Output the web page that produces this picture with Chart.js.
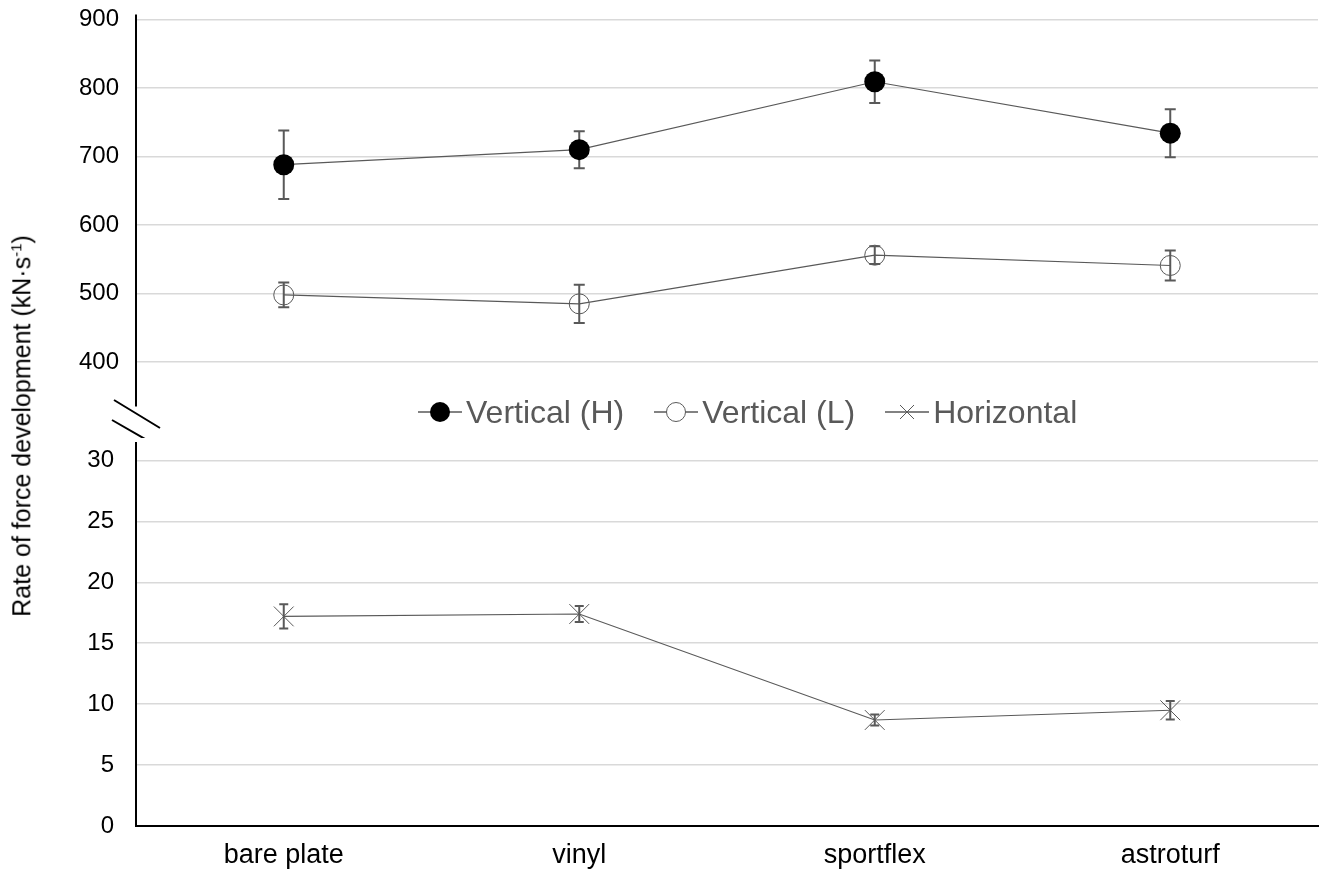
<!DOCTYPE html>
<html>
<head>
<meta charset="utf-8">
<script src="https://cdn.jsdelivr.net/npm/chart.js@4.4.1/dist/chart.umd.min.js"></script>
<style>
    body { margin: 0; background: #fff; }
    #wrap { position: relative; width: 1325px; height: 871px; overflow: hidden; font-family: Arial, "Liberation Sans", sans-serif; }
    #top-chart { position: absolute; left: 0; top: -12px; }
    #bottom-chart { position: absolute; left: 0; top: 407px; }
    #y-title {
        position: absolute; left: 22px; top: 426px;
        transform: translate(-50%, -50%) rotate(-90deg);
        white-space: nowrap; font-size: 25px; color: #000;
    }
    #y-title sup { font-size: 15px; }
    #legend {
        position: absolute; left: 418px; top: 394px; height: 36px;
        display: flex; align-items: center;
        font-size: 32px; color: #595959; white-space: nowrap;
    }
    #legend .item { display: flex; align-items: center; margin-right: 30px; }
    #legend svg { margin-right: 4px; }
</style>
</head>
<body>
<div id="wrap">
    <canvas id="top-chart" width="1325" height="450"></canvas>
    <canvas id="bottom-chart" width="1325" height="464"></canvas>
    <div id="y-title">Rate of force development (kN·s<sup>-1</sup>)</div>
    <div id="legend"></div>
</div>
<script>
const categories = ['bare plate', 'vinyl', 'sportflex', 'astroturf'];
const seriesNames = ['Vertical (H)', 'Vertical (L)', 'Horizontal'];

const vertHigh = [688, 710, 809, 734];
const vertHighErr = [50, 27, 31, 35];
const vertLow = [498, 485, 556, 541];
const vertLowErr = [18, 28, 13, 22];
const horizontal = [17.2, 17.4, 8.7, 9.5];
const horizontalErr = [1.0, 0.65, 0.45, 0.75];

const topTicks = [400, 500, 600, 700, 800, 900];
const bottomTicks = [0, 5, 10, 15, 20, 25, 30];

const lineGrey = '#595959';

// error bars drawn under the lines and markers
const errorBars = {
    id: 'errorBars',
    beforeDatasetsDraw(chart) {
        const ctx = chart.ctx;
        const y = chart.scales.y;
        chart.data.datasets.forEach((ds, i) => {
            const meta = chart.getDatasetMeta(i);
            const cap = ds.capWidth / 2;
            ctx.save();
            ctx.strokeStyle = lineGrey;
            ctx.lineWidth = 2;
            meta.data.forEach((pt, j) => {
                const hi = y.getPixelForValue(ds.data[j] + ds.errors[j]);
                const lo = y.getPixelForValue(ds.data[j] - ds.errors[j]);
                ctx.beginPath();
                ctx.moveTo(pt.x, hi); ctx.lineTo(pt.x, lo);
                ctx.moveTo(pt.x - cap, hi); ctx.lineTo(pt.x + cap, hi);
                ctx.moveTo(pt.x - cap, lo); ctx.lineTo(pt.x + cap, lo);
                ctx.stroke();
            });
            ctx.restore();
        });
    }
};

// the // marks for the broken axis, plus the short axis stub above 900
const axisBreak = {
    id: 'axisBreak',
    afterDraw(chart) {
        const ctx = chart.ctx;
        const { left: l, top: t, bottom: b } = chart.chartArea;
        ctx.save();
        ctx.strokeStyle = '#000';
        ctx.lineWidth = 2;
        ctx.beginPath();
        ctx.moveTo(l, t); ctx.lineTo(l, t - 5);
        ctx.moveTo(l - 22, b - 6); ctx.lineTo(l + 24, b + 22);
        ctx.moveTo(l - 24, b + 14); ctx.lineTo(l + 23, b + 41);
        ctx.stroke();
        ctx.restore();
    }
};

function yAxis(min, max, ticks, pad) {
    return {
        min: min,
        max: max,
        afterBuildTicks: s => { s.ticks = ticks.map(v => ({ value: v })); },
        afterFit: s => { s.width = 136; },
        ticks: { color: '#000', font: { size: 24, family: 'Arial, "Liberation Sans"' }, padding: pad },
        grid: { color: '#d9d9d9', lineWidth: 1.5, drawTicks: false },
        border: { color: '#000', width: 2 }
    };
}

new Chart(document.getElementById('top-chart'), {
    type: 'line',
    data: {
        labels: categories,
        datasets: [{
            label: seriesNames[0],
            data: vertHigh,
            errors: vertHighErr,
            capWidth: 11,
            borderColor: lineGrey,
            borderWidth: 1.2,
            pointRadius: 10.5,
            pointBackgroundColor: '#000',
            pointBorderColor: '#000',
            pointBorderWidth: 0,
            tension: 0
        }, {
            label: seriesNames[1],
            data: vertLow,
            errors: vertLowErr,
            capWidth: 11,
            borderColor: lineGrey,
            borderWidth: 1.2,
            pointRadius: 10,
            pointBackgroundColor: 'rgba(0,0,0,0)',
            pointBorderColor: lineGrey,
            pointBorderWidth: 1,
            tension: 0
        }]
    },
    options: {
        responsive: false,
        animation: false,
        layout: { autoPadding: false, padding: { top: 19, right: 7, bottom: 32, left: 0 } },
        plugins: { legend: { display: false }, tooltip: { enabled: false } },
        scales: {
            x: { type: 'category', offset: true, display: false },
            y: yAxis(336, 900, topTicks, 17)
        }
    },
    plugins: [errorBars, axisBreak]
});

new Chart(document.getElementById('bottom-chart'), {
    type: 'line',
    data: {
        labels: categories,
        datasets: [{
            label: seriesNames[2],
            data: horizontal,
            errors: horizontalErr,
            capWidth: 9,
            borderColor: lineGrey,
            borderWidth: 1.2,
            pointStyle: 'crossRot',
            pointRadius: 14,
            pointBorderColor: lineGrey,
            pointBorderWidth: 1,
            tension: 0
        }]
    },
    options: {
        responsive: false,
        animation: false,
        layout: { autoPadding: false, padding: { top: 13, right: 7, bottom: 0, left: 0 } },
        plugins: { legend: { display: false }, tooltip: { enabled: false } },
        scales: {
            x: {
                type: 'category',
                offset: true,
                afterFit: s => { s.height = 45; },
                ticks: { color: '#000', font: { size: 27, family: 'Arial, "Liberation Sans"' }, padding: 13, maxRotation: 0 },
                grid: { display: false, drawTicks: false },
                border: { color: '#000', width: 2 }
            },
            y: yAxis(0, 31.4, bottomTicks, 22)
        }
    },
    plugins: [errorBars]
});

// legend between the two panels
const symbols = [
    '<circle cx="22" cy="15" r="10" fill="#000"/>',
    '<circle cx="22" cy="15" r="9.5" fill="#fff" stroke="#595959" stroke-width="1"/>',
    '<path d="M15 8 L29 22 M29 8 L15 22" stroke="#595959" stroke-width="1" fill="none"/>'
];
const legend = document.getElementById('legend');
seriesNames.forEach((name, i) => {
    const item = document.createElement('span');
    item.className = 'item';
    item.innerHTML = '<svg width="44" height="30"><line x1="0" y1="15" x2="44" y2="15" stroke="#595959" stroke-width="1.5"/>' +
        symbols[i] + '</svg>';
    item.appendChild(document.createTextNode(name));
    legend.appendChild(item);
});
</script>
</body>
</html>
